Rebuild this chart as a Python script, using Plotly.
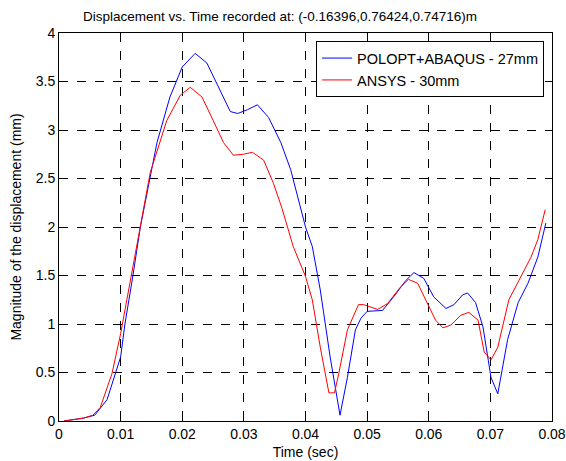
import plotly.graph_objects as go

# POLOPT+ABAQUS - 27mm
t_blue = [0.0008, 0.002, 0.004, 0.0058, 0.0078, 0.0100, 0.0107, 0.0120, 0.0132, 0.0159,
          0.0180, 0.0200, 0.0221, 0.0240, 0.0262, 0.0278, 0.0290, 0.0306, 0.0322, 0.0340,
          0.0360, 0.0376, 0.0400, 0.0411, 0.0424, 0.0440, 0.0456, 0.0468, 0.0481, 0.0490,
          0.0500, 0.0525, 0.0543, 0.0563, 0.0576, 0.0592, 0.0608, 0.0628, 0.0641, 0.0655,
          0.0663, 0.0676, 0.0688, 0.0701, 0.0712, 0.0728, 0.0745, 0.0761, 0.0777, 0.0790]
v_blue = [0.00, 0.01, 0.03, 0.06, 0.22, 0.66, 1.00, 1.50, 2.00, 2.87,
          3.34, 3.65, 3.79, 3.69, 3.41, 3.19, 3.17, 3.21, 3.26, 3.13,
          2.87, 2.59, 2.00, 1.80, 1.35, 0.66, 0.06, 0.45, 0.94, 1.06,
          1.13, 1.14, 1.28, 1.45, 1.53, 1.47, 1.28, 1.16, 1.20, 1.30,
          1.32, 1.22, 0.97, 0.45, 0.28, 0.84, 1.22, 1.42, 1.69, 2.04]

# ANSYS - 30mm
t_red = [0.0008, 0.002, 0.004, 0.0055, 0.0067, 0.0086, 0.0100, 0.0115, 0.0132, 0.0148,
         0.0175, 0.0197, 0.0213, 0.0232, 0.0250, 0.0267, 0.0283, 0.0299, 0.0314, 0.0332,
         0.0348, 0.0362, 0.0380, 0.0400, 0.0411, 0.0424, 0.0438, 0.0447, 0.0454, 0.0468,
         0.0486, 0.0494, 0.0517, 0.0533, 0.0554, 0.0567, 0.0582, 0.0598, 0.0611, 0.0623,
         0.0636, 0.0652, 0.0665, 0.0680, 0.0690, 0.0701, 0.0712, 0.0730, 0.0750, 0.0766,
         0.0777, 0.0789]
v_red = [0.00, 0.01, 0.03, 0.06, 0.14, 0.49, 0.90, 1.42, 2.00, 2.56,
         3.10, 3.36, 3.44, 3.34, 3.10, 2.87, 2.74, 2.75, 2.77, 2.69,
         2.45, 2.19, 1.80, 1.49, 1.25, 0.76, 0.29, 0.29, 0.49, 0.94,
         1.20, 1.20, 1.15, 1.21, 1.38, 1.46, 1.42, 1.21, 1.04, 0.96,
         0.99, 1.09, 1.12, 1.04, 0.71, 0.63, 0.76, 1.25, 1.49, 1.69,
         1.87, 2.18]

x_ticks = [0, 0.01, 0.02, 0.03, 0.04, 0.05, 0.06, 0.07, 0.08]
x_ticklabels = ["0", "0.01", "0.02", "0.03", "0.04", "0.05", "0.06", "0.07", "0.08"]
y_ticks = [0, 0.5, 1, 1.5, 2, 2.5, 3, 3.5, 4]
y_ticklabels = ["0", "0.5", "1", "1.5", "2", "2.5", "3", "3.5", "4"]

FONT = "Liberation Sans, Arial, Helvetica, sans-serif"
FS = 14
W, H = 566, 461

fig = go.Figure()
fig.add_trace(go.Scatter(x=t_blue, y=v_blue, mode="lines", name="POLOPT+ABAQUS - 27mm",
                         line=dict(color="#0000ff", width=1)))
fig.add_trace(go.Scatter(x=t_red, y=v_red, mode="lines", name="ANSYS - 30mm",
                         line=dict(color="#ff0000", width=1)))

axis_common = dict(showline=True, linecolor="black", linewidth=1, mirror="ticks",
                   ticks="inside", ticklen=5, tickcolor="black",
                   showgrid=True, gridcolor="black", griddash="dash", gridwidth=1,
                   zeroline=False, automargin=False,
                   tickfont=dict(family=FONT, size=FS, color="black"))

fig.update_xaxes(range=[0, 0.08], tickvals=x_ticks, ticktext=x_ticklabels,
                 title=dict(text="Time (sec)", font=dict(family=FONT, size=FS, color="black"),
                            standoff=6),
                 **axis_common)
fig.update_yaxes(range=[0, 4], tickvals=y_ticks, ticktext=y_ticklabels,
                 title=dict(text="Magnitude of the displacement (mm)",
                            font=dict(family=FONT, size=FS, color="black"), standoff=10),
                 **axis_common)

fig.update_layout(
    width=W, height=H,
    margin=dict(l=59, r=14, t=33, b=40),
    paper_bgcolor="white", plot_bgcolor="white",
    font=dict(family=FONT, size=FS, color="black"),
    title=dict(text="Displacement vs. Time recorded at: (-0.16396,0.76424,0.74716)m",
               x=280 / W, xref="container", xanchor="center",
               y=1 - 16 / H, yref="container", yanchor="middle",
               font=dict(family=FONT, size=13.5, color="black")),
    legend=dict(x=0.984, y=0.979, xanchor="right", yanchor="top",
                bordercolor="black", borderwidth=1, bgcolor="white",
                font=dict(family=FONT, size=14.5, color="black"),
                tracegroupgap=0),
    showlegend=True,
)

fig.write_html(
    "out.html",
    config={"displayModeBar": False},
    post_script="document.body.style.margin='0';"
                "document.documentElement.style.overflow='hidden';"
                "document.body.style.overflow='hidden';",
)
